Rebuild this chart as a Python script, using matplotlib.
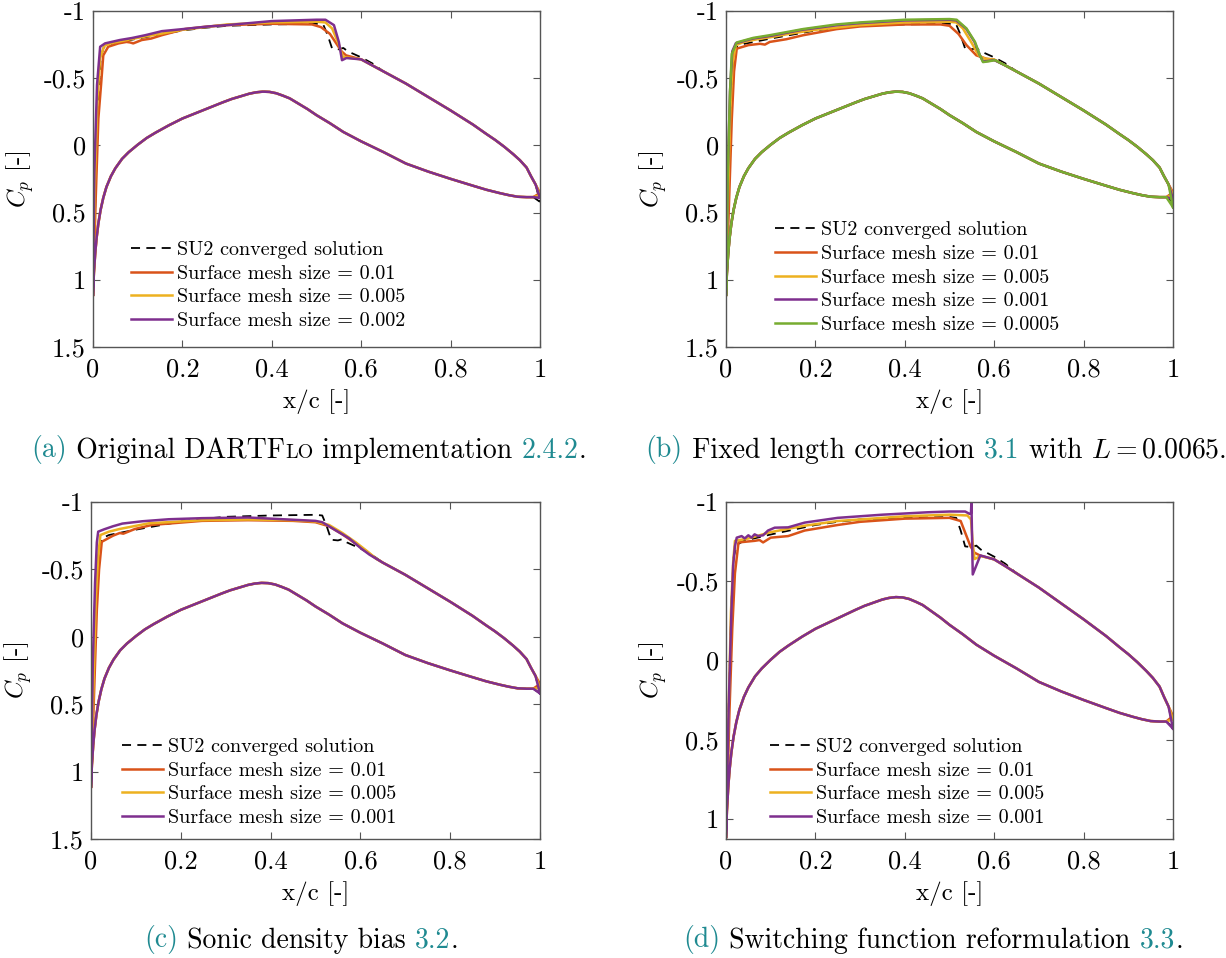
import matplotlib
matplotlib.use("Agg")
import matplotlib.pyplot as plt
from matplotlib.offsetbox import TextArea, HPacker, AnnotationBbox

plt.rcParams['font.family'] = 'serif'
plt.rcParams['font.serif'] = ['cmr10']
plt.rcParams['mathtext.fontset'] = 'cm'
plt.rcParams['axes.unicode_minus'] = False

# pressure side, shared by all runs (LE -> TE, without x=1)
lower_x = [0, 0.002, 0.005, 0.008, 0.012, 0.017, 0.023, 0.03, 0.04, 0.05, 0.065, 0.08, 0.1, 0.12, 0.14, 0.17,
           0.2, 0.23, 0.26, 0.29, 0.31, 0.33, 0.35, 0.365, 0.38, 0.395, 0.41, 0.425, 0.44, 0.46, 0.48, 0.5,
           0.53, 0.56, 0.6, 0.65, 0.7, 0.75, 0.8, 0.85, 0.88, 0.91, 0.93, 0.95, 0.97, 0.985]
lower_cp = [1.12, 0.95, 0.80, 0.69, 0.58, 0.48, 0.39, 0.31, 0.23, 0.17, 0.10, 0.05, -0.005, -0.055, -0.095, -0.15,
            -0.20, -0.24, -0.28, -0.32, -0.345, -0.365, -0.385, -0.395, -0.40, -0.398, -0.388, -0.37, -0.35,
            -0.31, -0.27, -0.225, -0.165, -0.10, -0.03, 0.05, 0.135, 0.195, 0.249, 0.30, 0.33, 0.355, 0.37,
            0.382, 0.385, 0.385]

# suction side behind the shock, shared
aft_x = [0.65, 0.7, 0.75, 0.8, 0.85, 0.88, 0.9, 0.92, 0.94, 0.955, 0.97, 0.98, 0.99]
aft_cp = [-0.55, -0.46, -0.36, -0.26, -0.155, -0.085, -0.04, 0.01, 0.065, 0.11, 0.165, 0.23, 0.29]

# SU2 reference, suction side up to the shock
su2_x = [0, 0.006, 0.012, 0.017, 0.024, 0.04, 0.07, 0.1, 0.15, 0.2, 0.25, 0.3, 0.4, 0.5, 0.515, 0.525,
         0.535, 0.55, 0.56, 0.57, 0.6, 0.625]
su2_cp = [1.12, 0.3, -0.35, -0.65, -0.73, -0.755, -0.775, -0.795, -0.825, -0.855, -0.875, -0.89, -0.9, -0.905,
          -0.9, -0.82, -0.72, -0.715, -0.725, -0.70, -0.655, -0.61]
su2_te = 0.42

# (a) original implementation
a_o_x = [0, 0.006, 0.012, 0.018, 0.023, 0.034, 0.057, 0.075, 0.083, 0.09, 0.109, 0.13, 0.154, 0.206, 0.258,
         0.3, 0.4, 0.49, 0.51, 0.53, 0.556, 0.566, 0.6, 0.625]
a_o_cp = [1.12, 0.4, -0.2, -0.45, -0.67, -0.734, -0.759, -0.77, -0.766, -0.759, -0.784, -0.795, -0.82, -0.866,
          -0.885, -0.895, -0.905, -0.9, -0.88, -0.83, -0.70, -0.67, -0.64, -0.595]
a_y_x = [0, 0.004, 0.01, 0.016, 0.025, 0.04, 0.07, 0.1, 0.15, 0.2, 0.3, 0.4, 0.5, 0.52, 0.535, 0.55, 0.559,
         0.567, 0.6, 0.625]
a_y_cp = [1.12, 0.3, -0.35, -0.65, -0.74, -0.76, -0.78, -0.80, -0.83, -0.86, -0.9, -0.915, -0.92, -0.915, -0.87,
          -0.75, -0.66, -0.655, -0.64, -0.595]
a_p_x = [0, 0.003, 0.009, 0.016, 0.027, 0.06, 0.087, 0.117, 0.154, 0.2, 0.258, 0.3, 0.4, 0.5, 0.52, 0.539,
         0.55, 0.557, 0.567, 0.6, 0.625]
a_p_cp = [1.12, 0.2, -0.45, -0.734, -0.759, -0.784, -0.799, -0.82, -0.85, -0.865, -0.885, -0.895, -0.925, -0.935,
          -0.935, -0.895, -0.77, -0.634, -0.65, -0.64, -0.595]
a_te = [0.355, 0.37, 0.39]
a_sizes = ['0.01', '0.005', '0.002']

# (b) fixed length correction
b_o_x = [0, 0.008, 0.013, 0.018, 0.024, 0.05, 0.076, 0.087, 0.098, 0.135, 0.173, 0.247, 0.3, 0.4, 0.48, 0.5,
         0.52, 0.538, 0.56, 0.582, 0.6, 0.625]
b_o_cp = [1.12, 0.3, -0.2, -0.55, -0.72, -0.746, -0.756, -0.75, -0.77, -0.79, -0.82, -0.865, -0.885, -0.9, -0.9,
          -0.89, -0.83, -0.746, -0.67, -0.645, -0.638, -0.595]
b_y_x = [0, 0.005, 0.01, 0.015, 0.022, 0.04, 0.07, 0.1, 0.15, 0.2, 0.3, 0.4, 0.5, 0.515, 0.53, 0.55, 0.565,
         0.58, 0.6, 0.625]
b_y_cp = [1.12, 0.3, -0.3, -0.62, -0.745, -0.77, -0.79, -0.805, -0.835, -0.86, -0.895, -0.915, -0.92, -0.915,
          -0.87, -0.76, -0.67, -0.645, -0.638, -0.595]
b_p_x = [0, 0.004, 0.009, 0.014, 0.022, 0.06, 0.1, 0.17, 0.25, 0.3, 0.4, 0.5, 0.515, 0.537, 0.556, 0.568,
         0.575, 0.586, 0.6, 0.625]
b_p_cp = [1.12, 0.2, -0.4, -0.7, -0.76, -0.795, -0.815, -0.86, -0.895, -0.91, -0.93, -0.935, -0.93, -0.87,
          -0.77, -0.67, -0.625, -0.628, -0.635, -0.595]
b_g_x = [0, 0.004, 0.009, 0.013, 0.024, 0.061, 0.098, 0.173, 0.247, 0.3, 0.4, 0.5, 0.516, 0.538, 0.557, 0.568,
         0.575, 0.586, 0.602, 0.625]
b_g_cp = [1.12, 0.2, -0.4, -0.68, -0.766, -0.80, -0.82, -0.866, -0.90, -0.915, -0.935, -0.94, -0.935, -0.87,
          -0.77, -0.67, -0.62, -0.625, -0.634, -0.595]
b_te = [0.35, 0.37, 0.40, 0.46]
b_sizes = ['0.01', '0.005', '0.001', '0.0005']

# (c) sonic density bias
c_o_x = [0, 0.008, 0.013, 0.018, 0.024, 0.049, 0.064, 0.072, 0.098, 0.136, 0.173, 0.247, 0.35, 0.45, 0.5,
         0.53, 0.56, 0.59, 0.615, 0.635]
c_o_cp = [1.12, 0.3, -0.2, -0.5, -0.705, -0.75, -0.77, -0.765, -0.80, -0.83, -0.84, -0.86, -0.865, -0.86,
          -0.85, -0.82, -0.76, -0.69, -0.63, -0.58]
c_y_x = [0, 0.006, 0.011, 0.016, 0.021, 0.04, 0.064, 0.129, 0.247, 0.35, 0.45, 0.5, 0.53, 0.56, 0.59, 0.615,
         0.635]
c_y_cp = [1.12, 0.3, -0.3, -0.6, -0.755, -0.78, -0.80, -0.842, -0.865, -0.87, -0.865, -0.855, -0.83, -0.77,
          -0.70, -0.635, -0.58]
c_p_x = [0, 0.004, 0.009, 0.013, 0.016, 0.029, 0.049, 0.07, 0.114, 0.173, 0.247, 0.35, 0.44, 0.5, 0.515,
         0.545, 0.575, 0.601, 0.62, 0.635]
c_p_cp = [1.12, 0.2, -0.4, -0.7, -0.78, -0.797, -0.82, -0.84, -0.857, -0.872, -0.88, -0.885, -0.87, -0.86,
          -0.85, -0.79, -0.73, -0.657, -0.61, -0.58]
c_te = [0.35, 0.38, 0.42]
c_sizes = ['0.01', '0.005', '0.001']

# (d) switching function reformulation
d_o_x = [0, 0.008, 0.014, 0.02, 0.028, 0.064, 0.075, 0.083, 0.1, 0.139, 0.176, 0.25, 0.3, 0.4, 0.5, 0.525,
         0.547, 0.556, 0.57, 0.6, 0.625]
d_o_cp = [1.12, 0.3, -0.2, -0.55, -0.745, -0.755, -0.76, -0.745, -0.775, -0.785, -0.82, -0.855, -0.875, -0.895,
          -0.90, -0.88, -0.72, -0.68, -0.66, -0.638, -0.595]
d_y_x = [0, 0.006, 0.011, 0.016, 0.02, 0.05, 0.1, 0.175, 0.25, 0.4, 0.5, 0.54, 0.548, 0.552, 0.556, 0.57,
         0.6, 0.625]
d_y_cp = [1.12, 0.3, -0.3, -0.62, -0.755, -0.77, -0.81, -0.85, -0.88, -0.91, -0.92, -0.915, -0.89, -0.74,
          -0.64, -0.66, -0.638, -0.595]
d_p_x = [0, 0.006, 0.012, 0.016, 0.02, 0.024, 0.035, 0.042, 0.05, 0.057, 0.064, 0.072, 0.083, 0.094, 0.109,
         0.139, 0.176, 0.25, 0.35, 0.45, 0.5, 0.535, 0.545, 0.548, 0.549, 0.552, 0.569, 0.6, 0.625]
d_p_cp = [1.12, 0.3, -0.3, -0.6, -0.72, -0.775, -0.785, -0.77, -0.79, -0.775, -0.796, -0.785, -0.79, -0.82,
          -0.838, -0.84, -0.87, -0.90, -0.92, -0.935, -0.94, -0.94, -0.925, -0.93, -1.0, -0.543, -0.663,
          -0.638, -0.595]
d_te = [0.35, 0.37, 0.43]
d_sizes = ['0.01', '0.005', '0.001']

colors = ['#D95319', '#EDB120', '#7E2F8E', '#77AC30']
teal = '#1f8a91'
gray = '#555555'


def loop(up_x, up_cp, te):
    # trailing edge -> pressure side -> leading edge -> suction side -> trailing edge
    xs = [1.0] + lower_x[::-1] + up_x[1:] + aft_x + [1.0]
    cps = [te] + lower_cp[::-1] + up_cp[1:] + aft_cp + [te]
    return xs, cps


def panel(rect, runs, tes, sizes, ybot, yticks, leg_anchor):
    ax = fig.add_axes(rect)
    xs, cps = loop(su2_x, su2_cp, su2_te)
    ax.plot(xs, cps, 'k--', lw=1.3, dashes=(5, 3.5), label='SU2 converged solution')
    for (ux, ucp), te, s, c in zip(runs, tes, sizes, colors):
        xs, cps = loop(ux, ucp, te)
        ax.plot(xs, cps, color=c, lw=1.8, label='Surface mesh size = ' + s)
    ax.set_xlim(0, 1)
    ax.set_ylim(ybot, -1)
    ax.set_xticks([0, 0.2, 0.4, 0.6, 0.8, 1])
    ax.set_xticklabels(['0', '0.2', '0.4', '0.6', '0.8', '1'])
    ax.set_yticks(yticks)
    ax.set_yticklabels(['%g' % v for v in yticks])
    ax.tick_params(direction='in', top=True, right=True, length=5, width=0.8,
                   color=gray, labelsize=19)
    ax.tick_params(axis='x', pad=8)
    ax.tick_params(axis='y', pad=5)
    for sp in ax.spines.values():
        sp.set_color(gray)
        sp.set_linewidth(1.0)
    ax.set_xlabel('x/c [-]', fontsize=18)
    ax.set_ylabel('$C_p$ [-]', fontsize=18)
    ax.xaxis.set_label_coords(0.5, -0.125)
    ax.yaxis.set_label_coords(-0.128, 0.5)
    ax.legend(loc='lower left', bbox_to_anchor=leg_anchor, frameon=False, fontsize=14.5,
              handlelength=2.05, handletextpad=0.25, labelspacing=0.28, borderpad=0, borderaxespad=0)
    return ax


def caption(xc, yc, parts):
    boxes = [TextArea(t, textprops=dict(color=c, fontsize=fs)) for t, c, fs in parts]
    pack = HPacker(children=boxes, align='baseline', pad=0, sep=0)
    ab = AnnotationBbox(pack, (xc, yc), xycoords='figure fraction', frameon=False,
                        box_alignment=(0.5, 0.5), pad=0)
    fig.add_artist(ab)


fig = plt.figure(figsize=(12.26, 9.58), dpi=100)
W, H = 1226, 958

yt_full = [-1, -0.5, 0, 0.5, 1, 1.5]
yt_d = [-1, -0.5, 0, 0.5, 1]

panel([93 / W, (H - 347) / H, 447 / W, 336 / H],
      [(a_o_x, a_o_cp), (a_y_x, a_y_cp), (a_p_x, a_p_cp)], a_te, a_sizes, 1.5, yt_full, (0.085, 0.05))
panel([726 / W, (H - 347) / H, 447 / W, 336 / H],
      [(b_o_x, b_o_cp), (b_y_x, b_y_cp), (b_p_x, b_p_cp), (b_g_x, b_g_cp)], b_te, b_sizes, 1.5, yt_full,
      (0.11, 0.038))
panel([91 / W, (H - 839) / H, 449 / W, 337 / H],
      [(c_o_x, c_o_cp), (c_y_x, c_y_cp), (c_p_x, c_p_cp)], c_te, c_sizes, 1.5, yt_full, (0.069, 0.035))
panel([726 / W, (H - 839) / H, 447 / W, 337 / H],
      [(d_o_x, d_o_cp), (d_y_x, d_y_cp), (d_p_x, d_p_cp)], d_te, d_sizes, 1.126, yt_d, (0.098, 0.035))

caption(309 / W, 1 - 450 / H, [('(a)', teal, 20), (' Original DARTF', 'k', 20), ('LO', 'k', 14.5),
                               (' implementation ', 'k', 20), ('2.4.2', teal, 20), ('.', 'k', 20)])
caption(936 / W, 1 - 450 / H, [('(b)', teal, 20), (' Fixed length correction ', 'k', 20), ('3.1', teal, 20),
                               (' with $L = 0.0065$.', 'k', 20)])
caption(301 / W, 1 - 940 / H, [('(c)', teal, 20), (' Sonic density bias ', 'k', 20), ('3.2', teal, 20),
                               ('.', 'k', 20)])
caption(933 / W, 1 - 940 / H, [('(d)', teal, 20), (' Switching function reformulation ', 'k', 20),
                               ('3.3', teal, 20), ('.', 'k', 20)])

fig.savefig('out.png', dpi=100)
